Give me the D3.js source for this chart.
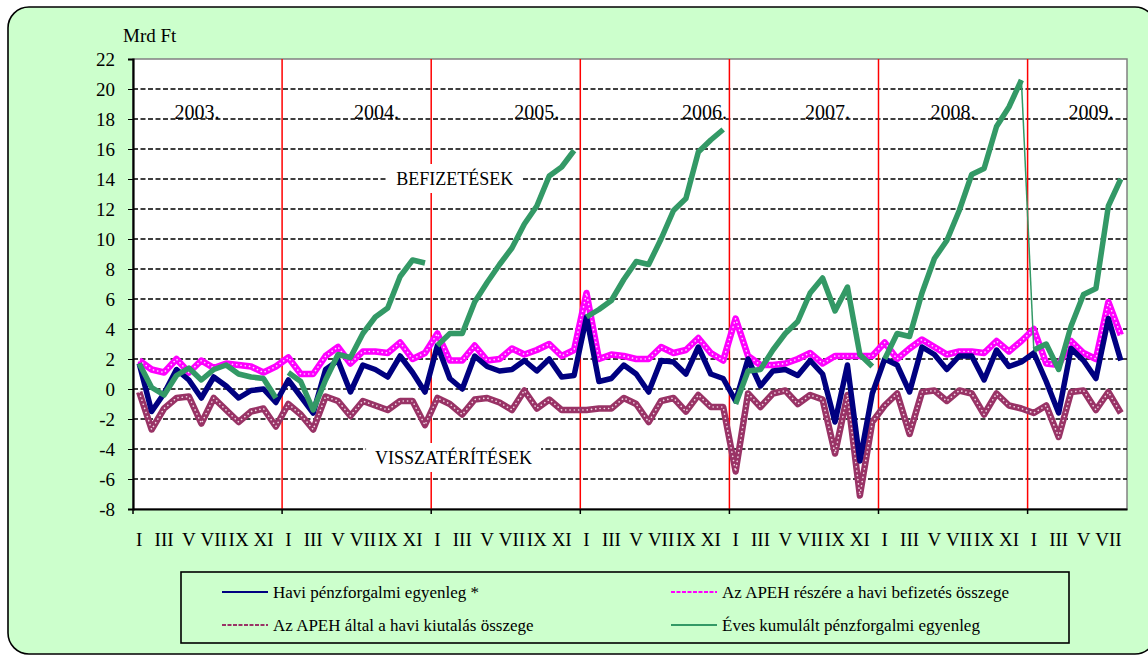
<!DOCTYPE html>
<html>
<head>
<meta charset="utf-8">
<script src="https://cdn.jsdelivr.net/npm/d3@7/dist/d3.min.js"></script>
<style>
  html, body { margin: 0; padding: 0; background: #fff; }
  svg { display: block; font-family: "Liberation Serif", "Times New Roman", serif; }
</style>
</head>
<body>
<svg width="1148" height="655"></svg>
<script>
const width = 1148
const height = 655
const margin = { top: 59, right: 21, bottom: 146, left: 133 }

// categories
const years = ['2003.', '2004.', '2005.', '2006.', '2007.', '2008.', '2009.']
const monthLabels = ['I', 'II', 'III', 'IV', 'V', 'VI', 'VII', 'VIII', 'IX', 'X', 'XI', 'XII']
const yTicks = [-8, -6, -4, -2, 0, 2, 4, 6, 8, 10, 12, 14, 16, 18, 20, 22]

// Havi pénzforgalmi egyenleg * (2003 I .. 2009 VIII)
const balance = [
  1.7, -1.5, -0.3, 1.3, 0.6, -0.6, 0.8, 0.2, -0.6, -0.1, 0.0, -0.9,
  0.6, -0.5, -1.6, 1.3, 1.9, -0.2, 1.6, 1.3, 0.8, 2.2, 1.1, -0.2,
  2.9, 0.7, 0.0, 2.2, 1.5, 1.2, 1.3, 1.9, 1.2, 2.0, 0.8, 0.9,
  4.8, 0.5, 0.7, 1.6, 1.0, -0.2, 1.9, 1.8, 1.0, 2.8, 1.0, 0.7,
  -0.8, 2.0, 0.2, 1.2, 1.3, 0.9, 1.9, 1.0, -2.2, 1.6, -4.8, -0.3,
  2.0, 1.6, -0.2, 2.8, 2.3, 1.3, 2.2, 2.2, 0.6, 2.6, 1.5, 1.8,
  2.4, 0.5, -1.6, 2.7, 1.9, 0.7, 4.7, 1.9
]

// Az APEH részére a havi befizetés összege
const payments = [
  1.9, 1.3, 1.1, 2.0, 1.1, 1.9, 1.4, 1.7, 1.6, 1.5, 1.1, 1.5,
  2.1, 1.0, 1.0, 2.2, 2.8, 1.7, 2.5, 2.5, 2.4, 3.1, 2.0, 2.4,
  3.7, 1.9, 1.9, 2.9, 1.9, 2.0, 2.7, 2.3, 2.6, 3.0, 2.2, 2.6,
  6.4, 2.0, 2.3, 2.2, 2.0, 2.0, 2.8, 2.4, 2.6, 3.4, 2.4, 1.9,
  4.7, 2.2, 1.6, 1.6, 1.7, 2.0, 2.4, 1.7, 2.2, 2.2, 2.2, 2.2,
  3.1, 2.0, 2.7, 3.3, 2.8, 2.3, 2.5, 2.5, 2.4, 3.2, 2.5, 3.2,
  4.0, 1.7, 1.6, 3.2, 2.4, 2.0, 5.8, 3.6
]

// Az APEH által a havi kiutalás összege
const refunds = [
  -0.2, -2.7, -1.3, -0.6, -0.5, -2.3, -0.6, -1.4, -2.2, -1.5, -1.3, -2.5,
  -1.0, -1.7, -2.7, -0.5, -0.8, -1.8, -0.8, -1.1, -1.4, -0.8, -0.8, -2.4,
  -0.6, -1.0, -1.7, -0.7, -0.6, -0.9, -1.4, -0.1, -1.3, -0.7, -1.4, -1.4,
  -1.4, -1.3, -1.3, -0.6, -1.0, -2.2, -0.8, -0.6, -1.5, -0.4, -1.2, -1.2,
  -5.5, -0.3, -1.2, -0.3, -0.1, -1.0, -0.4, -0.7, -4.3, -0.4, -7.1, -2.2,
  -1.1, -0.3, -3.0, -0.2, -0.1, -0.8, -0.1, -0.3, -1.7, -0.3, -1.1, -1.3,
  -1.6, -1.1, -3.2, -0.2, -0.1, -1.4, -0.2, -1.6
]

// Éves kumulált pénzforgalmi egyenleg
const cumulative = [
  1.7, 0.1, -0.4, 0.9, 1.4, 0.6, 1.3, 1.6, 1.0, 0.8, 0.7, -0.6,
  1.1, 0.5, -1.4, 0.6, 2.3, 2.1, 3.7, 4.8, 5.4, 7.5, 8.6, 8.4,
  2.9, 3.7, 3.7, 5.8, 7.1, 8.3, 9.4, 11.0, 12.2, 14.2, 14.8, 15.9,
  4.8, 5.3, 5.9, 7.3, 8.5, 8.3, 10.0, 11.9, 12.7, 15.8, 16.6, 17.3,
  -1.0, 1.2, 1.3, 2.6, 3.7, 4.5, 6.4, 7.4, 5.2, 6.8, 2.3, 1.5,
  2.0, 3.7, 3.5, 6.4, 8.7, 9.9, 11.9, 14.3, 14.7, 17.5, 18.8, 20.6,
  2.6, 3.0, 1.3, 4.2, 6.3, 6.7, 12.2, 14.0
]

const legendLabels = [
  'Havi pénzforgalmi egyenleg *',
  'Az APEH részére  a havi befizetés összege',
  'Az APEH által a havi kiutalás összege',
  'Éves kumulált pénzforgalmi egyenleg'
]

const idx = d3.range(balance.length)

const svg = d3.select('svg')

// background card
svg.append('rect')
  .attr('x', 8).attr('y', 7)
  .attr('width', 1148).attr('height', 647)
  .attr('rx', 21)
  .attr('fill', '#ccffcc')
  .attr('stroke', '#000')
  .attr('stroke-width', 1.6)

// scales
const x = d3.scaleBand()
  .domain(idx)
  .range([margin.left, width - margin.right])
const xEdge = d3.scaleLinear()
  .domain([0, 80])
  .range([margin.left, width - margin.right])
const y = d3.scaleLinear()
  .domain([-8, 22])
  .range([height - margin.bottom, margin.top])
const cx = i => x(i) + x.bandwidth() / 2

// plot area
svg.append('rect')
  .attr('x', margin.left).attr('y', margin.top)
  .attr('width', width - margin.left - margin.right)
  .attr('height', height - margin.top - margin.bottom)
  .attr('fill', '#fff')
  .attr('stroke', '#808080')
  .attr('stroke-width', 1.5)

// gridlines
svg.append('g')
  .selectAll('line')
  .data(yTicks.filter(d => d > -8 && d < 22))
  .enter().append('line')
  .attr('x1', margin.left).attr('x2', width - margin.right)
  .attr('y1', d => y(d)).attr('y2', d => y(d))
  .attr('stroke', '#000')
  .attr('stroke-width', 1.3)
  .attr('stroke-dasharray', '5,2.5')

// year separators
svg.append('g')
  .selectAll('line')
  .data(d3.range(12, 80, 12))
  .enter().append('line')
  .attr('x1', d => xEdge(d)).attr('x2', d => xEdge(d))
  .attr('y1', margin.top).attr('y2', height - margin.bottom)
  .attr('stroke', '#ff0000')
  .attr('stroke-width', 1.5)

// year labels (position in months from the start)
const yearPos = [5.15, 19.6, 32.5, 46.0, 55.9, 66.0, 77.1]
svg.append('g')
  .selectAll('text')
  .data(years)
  .enter().append('text')
  .attr('x', (d, i) => xEdge(yearPos[i]))
  .attr('y', 119)
  .attr('text-anchor', 'middle')
  .attr('font-size', 20)
  .text(d => d)

// annotation boxes
function note(txt, mx, v) {
  const g = svg.append('g')
  const t = g.append('text')
    .attr('x', xEdge(mx)).attr('y', y(v) + 6)
    .attr('text-anchor', 'middle')
    .attr('font-size', 18)
    .text(txt)
  const b = t.node().getBBox()
  g.insert('rect', 'text')
    .attr('x', b.x - 9).attr('y', b.y - 4)
    .attr('width', b.width + 18).attr('height', b.height + 8)
    .attr('fill', '#fff')
}
note('BEFIZETÉSEK', 25.9, 14)
note('VISSZATÉRÍTÉSEK', 25.8, -4.6)

// series
const line = d3.line()
  .x(d => cx(d[0]))
  .y(d => y(d[1]))

const pairs = arr => arr.map((v, i) => [i, v])

function dotted(data, color, dotColor) {
  svg.append('path')
    .attr('d', line(data))
    .attr('fill', 'none')
    .attr('stroke', color)
    .attr('stroke-width', 6.5)
    .attr('stroke-linejoin', 'round')
  svg.append('path')
    .attr('d', line(data))
    .attr('fill', 'none')
    .attr('stroke', dotColor)
    .attr('stroke-width', 1.6)
    .attr('stroke-linecap', 'round')
    .attr('stroke-dasharray', '0.1,4.2')
}

dotted(pairs(refunds), '#993366', '#f2d9e6')
dotted(pairs(payments), '#ff00ff', '#ffd9ff')

svg.append('path')
  .attr('d', line(pairs(balance)))
  .attr('fill', 'none')
  .attr('stroke', '#000080')
  .attr('stroke-width', 5.5)
  .attr('stroke-linejoin', 'round')

// cumulative restarts every year
const cum = pairs(cumulative)
years.forEach((yr, k) => {
  svg.append('path')
    .attr('d', line(cum.slice(k * 12, k * 12 + 12)))
    .attr('fill', 'none')
    .attr('stroke', '#339966')
    .attr('stroke-width', 5.5)
    .attr('stroke-linejoin', 'round')
})
// thin drop from 2008 XII to 2009 I
svg.append('path')
  .attr('d', line(cum.slice(71, 73)))
  .attr('fill', 'none')
  .attr('stroke', '#339966')
  .attr('stroke-width', 1.5)

// axes
const yAxis = d3.axisLeft(y)
  .tickValues(yTicks)
  .tickSize(5)
  .tickPadding(13)
  .tickFormat(d => String(d))

svg.append('g')
  .attr('transform', `translate(${margin.left},0)`)
  .call(yAxis)
  .attr('font-family', null)
  .attr('font-size', 19)
  .call(g => g.select('.domain').attr('stroke-width', 2.2))
  .call(g => g.selectAll('text').attr('fill', '#000'))

const xAxis = d3.axisBottom(x)
  .tickValues(idx.filter(i => i % 2 === 0))
  .tickSize(0)
  .tickPadding(24)
  .tickFormat(i => monthLabels[i % 12])

svg.append('g')
  .attr('transform', `translate(0,${height - margin.bottom})`)
  .call(xAxis)
  .attr('font-family', null)
  .attr('font-size', 19)
  .call(g => g.select('.domain').attr('stroke-width', 2.2))
  .call(g => g.selectAll('text').attr('fill', '#000'))

// year ticks on the category axis
svg.append('g')
  .selectAll('line')
  .data(d3.range(0, 81, 12))
  .enter().append('line')
  .attr('x1', d => xEdge(d)).attr('x2', d => xEdge(d))
  .attr('y1', height - margin.bottom).attr('y2', height - margin.bottom + 5)
  .attr('stroke', '#000')
  .attr('stroke-width', 1.5)

svg.append('text')
  .attr('x', 123).attr('y', 42)
  .attr('font-size', 19)
  .text('Mrd Ft')

// legend
svg.append('rect')
  .attr('x', 181).attr('y', 572)
  .attr('width', 888).attr('height', 71)
  .attr('fill', 'none')
  .attr('stroke', '#000')
  .attr('stroke-width', 1.6)

const legendItems = [
  { x: 222, y: 592, color: '#000080', dash: null },
  { x: 671, y: 592, color: '#ff00ff', dash: '4,1.5' },
  { x: 222, y: 625, color: '#993366', dash: '4,1.5' },
  { x: 671, y: 625, color: '#339966', dash: null }
]

const legend = svg.append('g')
  .selectAll('g')
  .data(legendItems)
  .enter().append('g')
  .attr('transform', d => `translate(${d.x},${d.y})`)

legend.append('line')
  .attr('x1', 0).attr('x2', 46)
  .attr('stroke', d => d.color)
  .attr('stroke-width', 2)
  .attr('stroke-dasharray', d => d.dash)

legend.append('text')
  .attr('x', 51).attr('y', 6)
  .attr('font-size', 17)
  .text((d, i) => legendLabels[i])
</script>
</body>
</html>
